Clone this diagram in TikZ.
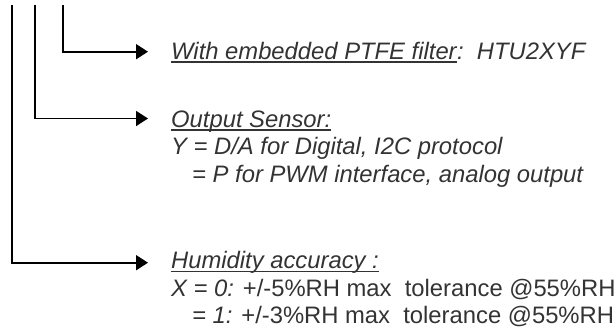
\documentclass[tikz,border=0pt]{standalone}
\usepackage{fontspec}
\setmainfont{Liberation Sans}
\usetikzlibrary{arrows.meta}
\definecolor{txt}{HTML}{333333}
\begin{document}
\begin{tikzpicture}[x=1pt,y=-1pt,
  conn/.style={line width=1.8pt,-{Triangle[length=12pt,width=15pt]}},
  lbl/.style={anchor=base west,inner sep=0pt,text=txt,font=\fontsize{23.8pt}{27pt}\selectfont\itshape},
  ul/.style={line width=1.6pt,draw=txt}]
\useasboundingbox (0,0) rectangle (616,332);
% text
\node[lbl] (with) at (171,59) {With embedded PTFE filter};
\node[lbl] (htu) at (with.base east) {:\ \ HTU2XYF};
\node[lbl] (out) at (171,127) {Output Sensor:};
\node[lbl] (ylin) at (171,154.5) {Y = D/A for Digital, I2C protocol};
\node[lbl] (plin) at (192,182) {= P for PWM interface, analog output};
\node[lbl] (hum) at (171,268.5) {Humidity accuracy :};
\node[lbl] (xz) at (171,296) {X = 0: \upshape+/-5\%RH max\ \ tolerance @55\%RH};
\node[lbl] (xo) at (192,323.5) {= 1: \upshape+/-3\%RH max\ \ tolerance @55\%RH};
% underlines
\draw[ul] ([yshift=-2.8pt]with.base west) -- ([yshift=-2.8pt]with.base east);
\draw[ul] ([yshift=-2.8pt]out.base west) -- ([yshift=-2.8pt]out.base east);
\draw[ul] ([yshift=-2.8pt]hum.base west) -- ([yshift=-2.8pt]hum.base east);
% connectors
\coordinate (t1) at (12,5);
\coordinate (t2) at (35,5);
\coordinate (t3) at (63,5);
\coordinate (e3) at (148,51.7);
\coordinate (e2) at (148,118.5);
\coordinate (e1) at (148,262.7);
\draw[conn] (t3) |- (e3);
\draw[conn] (t2) |- (e2);
\draw[conn] (t1) |- (e1);
\end{tikzpicture}
\end{document}
